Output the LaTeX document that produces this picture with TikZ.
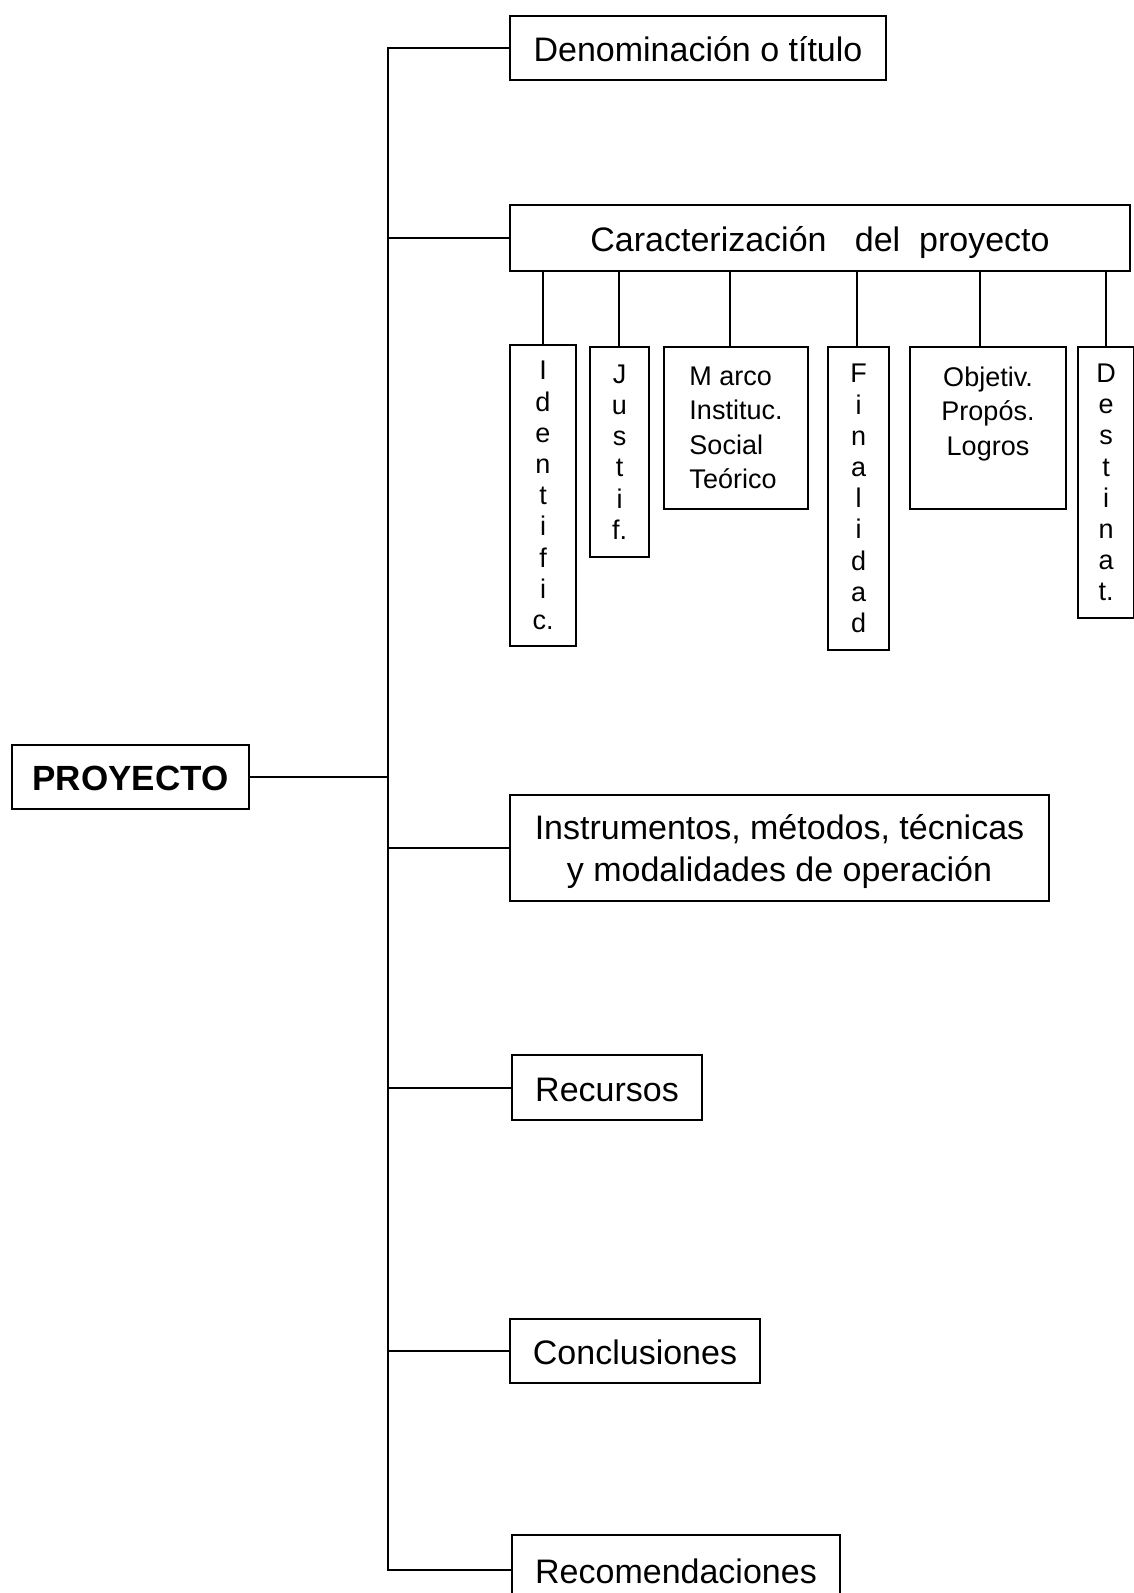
\documentclass[tikz,border=0pt]{standalone}
\usepackage{fontspec}
\setmainfont{Liberation Sans}
\begin{document}
\begin{tikzpicture}[x=1pt,y=-1pt,line width=2pt,
	caja/.style={draw,inner sep=0pt,align=center,font=\fontsize{34}{42}\selectfont},
	unalinea/.style={text height=29pt,text depth=2pt},
	cajita/.style={draw,inner sep=0pt,align=center,font=\fontsize{27}{31.2}\selectfont},
	cajota/.style={draw,inner sep=0pt,font=\fontsize{27}{34.5}\selectfont}]
	\useasboundingbox (0,0) rectangle (1133,1593);
	\node[caja,unalinea,minimum width=237pt,minimum height=64pt,font=\fontsize{35}{42}\selectfont\bfseries] (proy) at (130.5,777) {PROYECTO};
	\node[caja,unalinea,minimum width=376pt,minimum height=64pt] (den) at (698,48) {Denominación o título};
	\node[caja,unalinea,minimum width=620pt,minimum height=66pt] (car) at (820,238) {Caracterización\ \ \ del\ \ proyecto};
	\node[caja,minimum width=539pt,minimum height=106pt,text depth=0pt] (ins) at (779.5,848) {Instrumentos, métodos, técnicas\\y modalidades de operación};
	\node[caja,unalinea,minimum width=190pt,minimum height=65pt] (rec) at (607,1087.5) {Recursos};
	\node[caja,unalinea,minimum width=250pt,minimum height=64pt] (con) at (635,1351) {Conclusiones};
	\node[caja,unalinea,minimum width=328pt,minimum height=70pt] (reco) at (676,1570) {Recomendaciones};
	% partes de la caracterizacion
	\node[cajita,minimum width=66pt,minimum height=301pt] (idn) at (543,495.5) {I\\d\\e\\n\\t\\i\\f\\i\\c.};
	\node[cajita,minimum width=59pt,minimum height=210pt] (jus) at (619.5,452) {J\\u\\s\\t\\i\\f.};
	\node[cajota,align=left,minimum width=144pt,minimum height=162pt] (mar) at (736,428) {M arco\\Instituc.\\Social\\Teórico};
	\node[cajita,minimum width=61pt,minimum height=303pt] (fin) at (858.5,498.5) {F\\i\\n\\a\\l\\i\\d\\a\\d};
	\node[cajota,align=center,minimum width=156pt,minimum height=162pt] (obj) at (988,428) {Objetiv.\\Propós.\\Logros\\\mbox{}};
	\node[cajita,minimum width=56pt,minimum height=271pt] (des) at (1106,482.5) {D\\e\\s\\t\\i\\n\\a\\t.};
	% conectores
	\coordinate (tronco) at (388,0);
	\draw (den.west) -- (den.west -| tronco) -- (reco.west -| tronco) -- (reco.west);
	\foreach \n in {car,ins,rec,con}
		\draw (tronco |- \n.west) -- (\n.west);
	\draw (proy.east) -- (proy.east -| tronco);
	\foreach \n/\dx in {idn/0,jus/-1,mar/-6,fin/-2,obj/-8,des/0}
		\draw ([xshift=\dx pt]car.south -| \n.north) -- ([xshift=\dx pt]\n.north);
\end{tikzpicture}
\end{document}
